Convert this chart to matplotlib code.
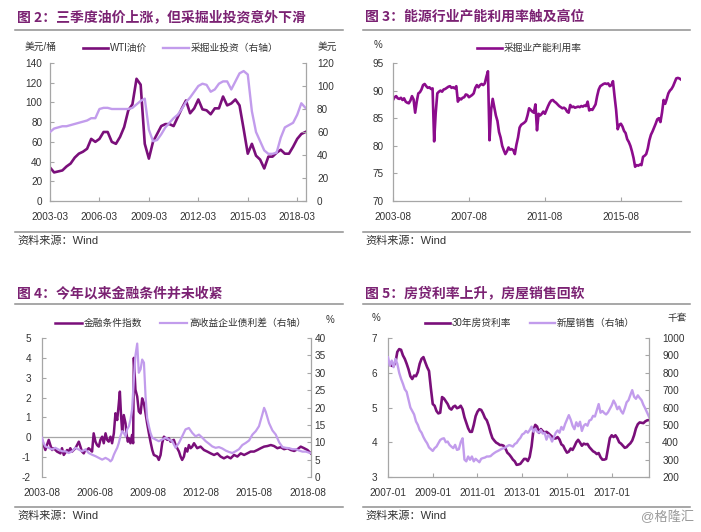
import numpy as np
import pandas as pd
import matplotlib
matplotlib.use("Agg")
import matplotlib.pyplot as plt
from matplotlib.lines import Line2D

plt.rcParams['font.family'] = ['Liberation Sans', 'Noto Sans CJK SC']
plt.rcParams['axes.unicode_minus'] = False

# ---- 图2: WTI oil price vs mining capex, quarterly from 2003-03 ----
q_start = '2003-03-01'
wti = [34, 29, 30, 31, 35, 38, 44, 48, 50, 53, 63, 60, 63, 70, 70, 60,
       58, 65, 75, 92, 98, 124, 118, 58, 43, 60, 68, 76, 78, 78, 76, 85,
       94, 102, 89, 94, 103, 93, 92, 88, 94, 94, 106, 97, 99, 103, 97, 73,
       48, 58, 46, 42, 33, 45, 45, 49, 52, 48, 48, 55, 63, 68, 70]
capex = [60, 63, 64, 65, 65, 66, 67, 68, 69, 70, 72, 72, 80, 81, 81, 80,
         80, 80, 80, 80, 81, 84, 87, 89, 62, 52, 53, 58, 64, 68, 72, 75,
         80, 86, 90, 95, 100, 102, 101, 95, 97, 102, 104, 104, 97, 104, 111, 113,
         110, 78, 60, 52, 44, 41, 41, 42, 55, 64, 66, 68, 75, 85, 81]
p1_ticks = ['2003-03', '2006-03', '2009-03', '2012-03', '2015-03', '2018-03']

# ---- 图3: mining capacity utilisation, monthly from 2003-08 ----
cu_start = '2003-08-01'
cap_util = [88.3, 88.8, 89.0, 88.6, 88.5, 88.7, 88.3, 88.6, 88.0, 87.8,
            87.7, 88.2, 89.0, 88.4, 86.0, 88.0, 89.5, 89.7, 90.2, 91.0,
            91.2, 90.8, 90.5, 90.6, 90.3, 90.4, 80.8, 86.0, 89.5, 89.8,
            90.0, 89.8, 90.2, 90.3, 90.5, 90.7, 90.8, 90.5, 90.6, 90.4,
            90.8, 88.0, 88.6, 88.4, 88.7, 88.8, 89.3, 89.2, 88.8, 89.0,
            89.2, 89.5, 90.5, 91.0, 90.6, 91.0, 91.2, 91.0, 91.3, 92.5,
            93.5, 81.0, 86.5, 88.5, 87.0, 85.5, 84.5, 82.5, 81.5, 80.0,
            79.2, 78.5, 79.0, 79.7, 79.3, 79.4, 79.2, 78.5, 80.2, 81.5,
            83.3, 83.8, 84.0, 84.2, 84.5, 85.5, 86.8, 86.5, 86.2, 86.0,
            87.5, 82.8, 85.8, 85.5, 85.8, 86.2, 85.8, 86.5, 87.2, 87.8,
            88.2, 88.3, 88.0, 87.8, 87.5, 87.2, 87.0, 86.8, 86.9, 86.7,
            86.2, 86.0, 87.4, 87.0, 87.1, 86.9, 87.0, 87.1, 87.0, 87.2,
            87.1, 87.3, 87.2, 88.0, 86.4, 86.6, 86.5, 87.0, 87.5, 89.0,
            90.2, 90.8, 91.0, 91.2, 91.3, 91.2, 91.3, 90.8, 91.0, 91.7,
            89.0, 86.5, 83.0, 83.8, 84.0, 83.5, 82.7, 82.3, 81.2, 80.7,
            80.0, 79.0, 77.8, 76.2, 76.5, 76.4, 76.6, 76.5, 78.0, 78.2,
            78.5, 79.5, 81.0, 82.0, 82.6, 83.3, 84.0, 84.8, 85.0, 84.3,
            86.0, 88.3, 87.6, 88.5, 89.5, 90.0, 90.3, 90.8, 91.5, 92.2,
            92.3, 92.2, 92.0]
p2_ticks = ['2003-08', '2007-08', '2011-08', '2015-08']

# ---- 图4: financial conditions index and high-yield spread (decimal years) ----
fci_t = [2003.58, 2003.67, 2003.77, 2003.86, 2003.96, 2004.05, 2004.15, 2004.24,
         2004.43, 2004.62, 2004.71, 2004.81, 2005.00, 2005.09, 2005.18, 2005.28,
         2005.47, 2005.66, 2005.75, 2005.84, 2005.94, 2006.03, 2006.13, 2006.22, 2006.32, 2006.41,
         2006.50, 2006.60, 2006.69, 2006.79, 2006.88, 2006.98, 2007.07, 2007.17,
         2007.26, 2007.35, 2007.45, 2007.54, 2007.64, 2007.73, 2007.83, 2007.92,
         2007.98, 2008.05, 2008.11, 2008.20, 2008.30, 2008.35, 2008.43, 2008.49,
         2008.58, 2008.67, 2008.73, 2008.77,
         2008.86, 2008.96, 2009.05, 2009.15, 2009.24, 2009.34, 2009.43, 2009.52,
         2009.62, 2009.71, 2009.81, 2009.90,
         2010.09, 2010.18, 2010.28, 2010.37, 2010.47, 2010.66, 2010.75, 2010.84,
         2011.03, 2011.13, 2011.22, 2011.32, 2011.41, 2011.50, 2011.60, 2011.69,
         2011.79, 2011.88, 2011.98, 2012.07, 2012.17,
         2012.35, 2012.54, 2012.73, 2012.92, 2013.11, 2013.30, 2013.49, 2013.67,
         2013.86, 2014.05, 2014.24, 2014.43, 2014.62, 2014.81, 2015.00, 2015.18,
         2015.37, 2015.56, 2015.75, 2015.94, 2016.13, 2016.32, 2016.51, 2016.69,
         2016.88, 2017.07, 2017.26, 2017.45, 2017.64, 2017.83, 2018.02, 2018.20,
         2018.39, 2018.58, 2018.77]
fci = [-0.13, -0.39, -0.64, -0.39, -0.13, -0.39, -0.64, -0.55,
       -0.72, -0.81, -0.55, -0.89, -0.64, -0.72, -0.55, -0.72,
       -0.55, -0.22, -0.47, -0.72, -0.81, -0.64, -0.64, -0.55, -0.64, -0.72,
       0.2, -0.22, -0.39, -0.47, -0.13, 0.03, -0.3, 0.2,
       -0.13, -0.22, 0.03, -0.3, 0.2, 1.21, 0.87, 1.71,
       2.3, 1.04, 0.29, 1.12, 0.7, 0.2, -0.22, -0.05,
       -0.3, 0.12, -0.3, 4.0,
       2.4, 2.05, 1.3, 1.2, 1.96, 1.71, 1.21, 0.7,
       0.2, -0.22, -0.64, -0.89,
       -0.97, -1.14, -0.89, -0.3, 0.03, -0.13, -0.05, -0.22,
       -0.13, -0.39, -0.55, -0.72, -0.97, -1.14, -0.97, -0.55,
       -0.72, -0.39, -0.55, -0.47, -0.3,
       -0.55, -0.47, -0.64, -0.72, -0.81, -0.89, -0.81, -0.97,
       -1.06, -0.97, -1.06, -0.89, -0.97, -0.81, -0.89, -0.81,
       -0.72, -0.72, -0.64, -0.55, -0.47, -0.44, -0.39, -0.44,
       -0.55, -0.5, -0.6, -0.55, -0.64, -0.69, -0.6, -0.47,
       -0.55, -0.64, -0.81]
hy_t = [2003.58, 2003.67, 2003.77, 2003.96, 2004.15, 2004.33, 2004.52, 2004.71,
        2004.90, 2005.09, 2005.28, 2005.47, 2005.66, 2005.84, 2006.03, 2006.22,
        2006.41, 2006.60, 2006.79, 2006.98, 2007.17, 2007.35, 2007.45, 2007.54,
        2007.64, 2007.73, 2007.83, 2007.92, 2008.01, 2008.11, 2008.20, 2008.30,
        2008.39, 2008.49, 2008.58, 2008.67, 2008.77, 2008.86, 2008.96, 2009.05,
        2009.15, 2009.24, 2009.34, 2009.43, 2009.52, 2009.62, 2009.71, 2009.81,
        2009.99, 2010.18, 2010.37, 2010.56, 2010.75, 2010.94, 2011.13, 2011.32,
        2011.50, 2011.69, 2011.88, 2012.07, 2012.26, 2012.45, 2012.64, 2012.83,
        2013.01, 2013.20, 2013.39, 2013.58, 2013.77, 2013.96, 2014.15, 2014.33,
        2014.52, 2014.71, 2014.90, 2015.09, 2015.28, 2015.47, 2015.66, 2015.84,
        2016.03, 2016.13, 2016.22, 2016.41, 2016.60, 2016.79, 2016.98, 2017.17,
        2017.35, 2017.54, 2017.73, 2017.92, 2018.11, 2018.30, 2018.49, 2018.67,
        2018.77]
hy_spread = [11.3, 9.8, 8.8, 8.4, 7.9, 8.4, 7.9, 7.4,
             7.4, 6.9, 7.4, 8.4, 7.9, 7.4, 7.9, 6.9,
             6.4, 6.0, 5.5, 5.0, 5.5, 5.0, 4.5, 5.0,
             6.4, 7.4, 8.4, 9.8, 11.7, 13.2, 12.7, 11.7,
             13.7, 14.6, 16.5, 19.4, 28.0, 35.0, 38.4, 30.0,
             31.0, 33.8, 32.9, 23.3, 17.0, 14.6, 12.7, 11.3,
             10.8, 10.3, 10.8, 11.3, 10.8, 10.3, 8.4, 9.8,
             11.7, 13.7, 14.1, 12.7, 11.7, 12.2, 11.3, 10.3,
             9.6, 8.8, 8.4, 8.6, 8.2, 7.6, 7.2, 6.9,
             7.4, 8.0, 9.2, 9.8, 10.5, 12.2, 13.2, 14.6,
             18.0, 19.9, 18.8, 15.5, 13.4, 12.2, 10.0, 8.6,
             8.4, 8.3, 8.0, 8.0, 7.6, 7.3, 7.3, 7.0,
             6.9]
p3_ticks = ['2003-08', '2006-08', '2009-08', '2012-08', '2015-08', '2018-08']

# ---- 图5: 30y mortgage rate and new home sales, monthly from 2007-01 ----
m_start = '2007-01-01'
mortgage = [6.2, 6.25, 6.2, 6.2, 6.3, 6.6, 6.68, 6.66, 6.5, 6.4,
            6.26, 6.1, 5.9, 5.82, 5.92, 5.9, 6.02, 6.26, 6.4, 6.45,
            6.3, 6.16, 6.05, 5.55, 5.1, 5.05, 4.9, 4.83, 4.85, 5.3,
            5.26, 5.18, 5.1, 4.98, 4.94, 5.02, 5.05, 4.98, 5.0, 5.05,
            4.95, 4.72, 4.56, 4.4, 4.3, 4.3, 4.5, 4.75, 4.88, 4.95,
            4.93, 4.83, 4.7, 4.63, 4.48, 4.28, 4.12, 4.05, 3.99, 3.96,
            3.92, 3.92, 3.9, 3.82, 3.7, 3.65, 3.58, 3.5, 3.45, 3.35,
            3.36, 3.38, 3.45, 3.52, 3.52, 3.46, 3.58, 3.88, 4.35, 4.5,
            4.45, 4.27, 4.38, 4.32, 4.28, 4.3, 4.26, 4.21, 4.16, 4.11,
            4.11, 4.15, 4.08, 3.94, 3.9, 3.79, 3.7, 3.73, 3.82, 3.78,
            3.88, 4.0, 4.07, 3.99, 3.9, 3.96, 3.94, 3.95, 3.86, 3.8,
            3.74, 3.71, 3.66, 3.69, 3.57, 3.5, 3.5, 3.52, 3.82, 4.12,
            4.2, 4.15, 4.2, 4.12, 4.0, 3.96, 3.9, 3.84, 3.86, 3.92,
            3.97, 4.05, 4.2, 4.4, 4.52, 4.57, 4.56, 4.55, 4.6, 4.63, 4.64]
home_sales = [889, 842, 870, 832, 880, 851, 800, 765, 737, 705,
              690, 645, 600, 580, 560, 520, 500, 470, 455, 430,
              410, 394, 370, 360, 350, 366, 375, 394, 413, 420,
              423, 400, 404, 385, 375, 366, 385, 356, 360, 400,
              423, 300, 290, 318, 299, 318, 290, 305, 295, 285,
              305, 309, 312, 318, 318, 320, 330, 338, 345, 350,
              356, 362, 366, 370, 378, 384, 380, 375, 390, 396,
              413, 425, 445, 451, 465, 455, 470, 490, 461, 478,
              461, 455, 470, 450, 455, 415, 442, 430, 404, 430,
              455, 468, 455, 488, 472, 505, 530, 556, 530, 495,
              475, 515, 492, 518, 465, 495, 505, 495, 525, 530,
              552, 548, 585, 620, 570, 580, 568, 560, 572, 592,
              612, 640, 620, 590, 605, 580, 565, 595, 630, 642,
              672, 700, 662, 650, 670, 655, 642, 615, 594, 570, 547]
p4_ticks = ['2007-01', '2009-01', '2011-01', '2013-01', '2015-01', '2017-01']

DARK = '#7a0f7a'
LIGHT = '#c29cec'
P2 = '#8c0c8c'
GREY = '#a6a6a6'
RULE = '#8f8f8f'
TXT = '#333333'
TITLE = '#7b2273'

W, H = 701, 532
fig = plt.figure(figsize=(W / 100, H / 100), dpi=100)


def fx(px):
    return px / W


def fy(py):
    return 1 - py / H


def dec(d):
    d = pd.DatetimeIndex(pd.to_datetime(d))
    return np.asarray(d.year + (d.month - 1) / 12.0)


def panel(l, r, t, b):
    return fig.add_axes([fx(l), fy(b), (r - l) / W, (b - t) / H])


def style_left(ax, pad, bottom=True):
    for s in ax.spines.values():
        s.set_visible(False)
    for s in (['left', 'bottom'] if bottom else ['left']):
        ax.spines[s].set_visible(True)
        ax.spines[s].set_color(GREY)
        ax.spines[s].set_linewidth(0.9)
    ax.tick_params(axis='y', direction='in', length=3, width=0.8, color=GREY,
                   labelsize=7.2, labelcolor=TXT, pad=pad)
    ax.tick_params(axis='x', direction='in', length=3 if bottom else 0, width=0.8,
                   color=GREY, labelsize=7.2, labelcolor=TXT, pad=8)
    ax.patch.set_alpha(0)


def style_right(ax, pad):
    for s in ax.spines.values():
        s.set_visible(False)
    ax.spines['right'].set_visible(True)
    ax.spines['right'].set_color(GREY)
    ax.spines['right'].set_linewidth(0.9)
    ax.tick_params(axis='y', direction='in', length=3, width=0.8, color=GREY,
                   labelsize=7.2, labelcolor=TXT, pad=pad)


def hrule(x0, x1, y):
    fig.add_artist(Line2D([fx(x0), fx(x1)], [fy(y), fy(y)], color=RULE, lw=1.1))


def legend_item(x0, x1, y, color, lw, label):
    fig.add_artist(Line2D([fx(x0), fx(x1)], [fy(y), fy(y)], color=color, lw=lw))
    fig.text(fx(x1 + 2), fy(y), label, fontsize=7, color=TXT, va='center', ha='left')


def frame(x0, x1, title, y_title, y_top, y_bot, y_src):
    fig.text(fx(x0 + 2), fy(y_title), title, fontsize=10, fontweight='bold', color=TITLE,
             va='center', ha='left', family=['Noto Sans CJK SC'])
    hrule(x0, x1, y_top)
    hrule(x0, x1, y_bot)
    fig.text(fx(x0 + 2), fy(y_src), '资料来源：Wind', fontsize=8, color=TXT,
             va='center', ha='left')


# ---------- panel 1 ----------
t1 = dec(pd.date_range(q_start, periods=len(wti), freq='3MS'))
ax1 = panel(50, 306, 63, 201)
ax1b = ax1.twinx()
ax1.plot(t1, wti, color=DARK, lw=1.9)
ax1b.plot(t1, capex, color=LIGHT, lw=1.7)
ax1.set_ylim(0, 140)
ax1.set_yticks(range(0, 141, 20))
ax1b.set_ylim(0, 120)
ax1b.set_yticks(range(0, 121, 20))
ax1.set_xlim(t1[0], 2018.70)
ax1.set_xticks(dec(p1_ticks))
ax1.set_xticklabels(p1_ticks)
style_left(ax1, pad=5.5)
style_right(ax1b, pad=8)
frame(15, 343, '图 2：三季度油价上涨，但采掘业投资意外下滑', 17, 30, 232, 241)
fig.text(fx(25), fy(47), '美元/桶', fontsize=7, color=TXT, va='center')
fig.text(fx(318), fy(47), '美元', fontsize=7, color=TXT, va='center')
legend_item(83, 108, 48, DARK, 1.9, 'WTI油价')
legend_item(163, 189, 48, LIGHT, 1.7, '采掘业投资（右轴）')

# ---------- panel 2 ----------
t2 = dec(pd.date_range(cu_start, periods=len(cap_util), freq='MS'))
ax2 = panel(393, 681, 63, 201)
ax2.plot(t2, cap_util, color=P2, lw=1.9)
ax2.set_ylim(70, 95)
ax2.set_yticks(range(70, 96, 5))
ax2.set_xlim(t2[0], t2[-1])
ax2.set_xticks(dec(p2_ticks))
ax2.set_xticklabels(p2_ticks)
style_left(ax2, pad=7)
frame(363, 690, '图 3：能源行业产能利用率触及高位', 17, 30, 232, 241)
fig.text(fx(374), fy(45), '%', fontsize=7, color=TXT, va='center')
legend_item(477, 502, 48, P2, 1.9, '采掘业产能利用率')

# ---------- panel 3 ----------
ax3 = panel(42, 311, 338, 477)
ax3b = ax3.twinx()
ax3.axhline(0, color=GREY, lw=0.9)
ax3.plot(fci_t, fci, color=DARK, lw=1.8)
ax3b.plot(hy_t, hy_spread, color=LIGHT, lw=1.6)
ax3.set_ylim(-2, 5)
ax3.set_yticks(range(-2, 6))
ax3b.set_ylim(0, 40)
ax3b.set_yticks(range(0, 41, 5))
ax3.set_xlim(2003.58, 2018.78)
ax3.set_xticks(dec(p3_ticks))
ax3.set_xticklabels(p3_ticks)
style_left(ax3, pad=8, bottom=False)
style_right(ax3b, pad=2.5)
frame(15, 343, '图 4：今年以来金融条件并未收紧', 293, 304, 507, 516)
fig.text(fx(326), fy(320), '%', fontsize=7, color=TXT, va='center')
legend_item(55, 82, 323, DARK, 1.8, '金融条件指数')
legend_item(160, 187, 323, LIGHT, 1.6, '高收益企业债利差（右轴）')

# ---------- panel 4 ----------
t4 = dec(pd.date_range(m_start, periods=len(mortgage), freq='MS'))
ax4 = panel(388, 649, 338, 477)
ax4b = ax4.twinx()
ax4.plot(t4, mortgage, color=DARK, lw=1.9)
ax4b.plot(t4, home_sales, color=LIGHT, lw=1.7)
ax4.set_ylim(3, 7)
ax4.set_yticks(range(3, 8))
ax4b.set_ylim(200, 1000)
ax4b.set_yticks(range(200, 1001, 100))
ax4.set_xlim(t4[0], t4[-1])
ax4.set_xticks(dec(p4_ticks))
ax4.set_xticklabels(p4_ticks)
style_left(ax4, pad=8)
style_right(ax4b, pad=9.5)
frame(363, 690, '图 5：房贷利率上升，房屋销售回软', 293, 304, 507, 516)
fig.text(fx(372), fy(318), '%', fontsize=7, color=TXT, va='center')
fig.text(fx(668), fy(318), '千套', fontsize=7, color=TXT, va='center')
legend_item(425, 450, 323, DARK, 1.9, '30年房贷利率')
legend_item(530, 555, 323, LIGHT, 1.7, '新屋销售（右轴）')

fig.text(fx(694), fy(517), '@格隆汇', fontsize=9.5, color='#9a9a9a', va='center', ha='right')

fig.savefig('out.png', dpi=100)
